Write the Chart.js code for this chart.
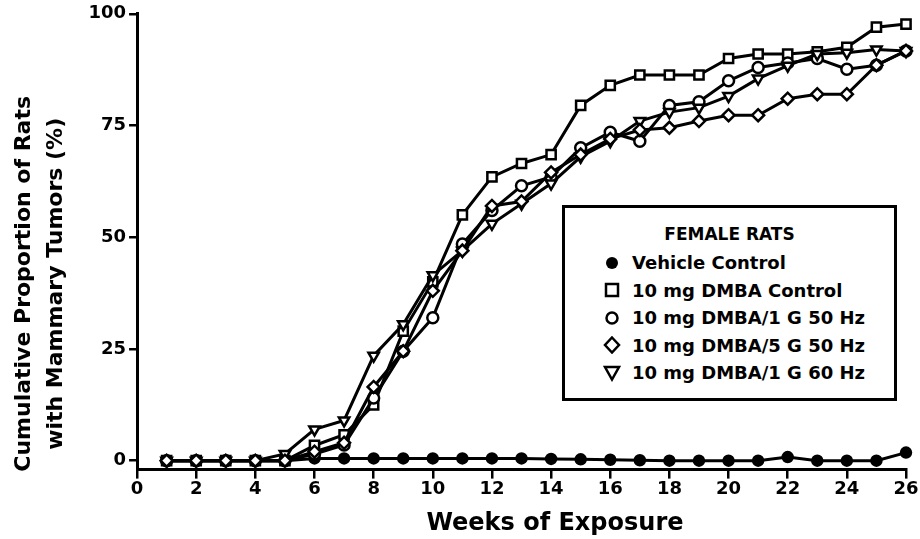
<!DOCTYPE html>
<html>
<head>
<meta charset="utf-8">
<script src="https://cdn.jsdelivr.net/npm/chart.js@4.4.0/dist/chart.umd.min.js"></script>
<style>
  html, body { margin: 0; padding: 0; background: #fff; }
  #wrap { position: relative; width: 920px; height: 539px; }
  #legend {
    position: absolute; left: 562px; top: 205px; width: 329px; height: 190px;
    border: 3px solid #000; background: #fff;
    font-family: "DejaVu Sans", sans-serif; font-weight: bold; color: #000;
  }
  #legend .title { text-align: center; font-size: 17px; margin-top: 16px; margin-bottom: 5px; }
  #legend .row { display: flex; align-items: center; height: 27.5px; font-size: 18px; padding-left: 38px; }
  #legend svg { width: 18px; height: 18px; margin-right: 11px; }
</style>
</head>
<body>
<div id="wrap">
  <canvas id="mycanvas" width="920" height="539"></canvas>
  <div id="legend">
    <div class="title">FEMALE RATS</div>
    <div class="row"><svg viewBox="0 0 18 18"><circle cx="9" cy="9" r="6" fill="#000"/></svg>Vehicle Control</div>
    <div class="row"><svg viewBox="0 0 18 18"><rect x="3" y="3" width="12" height="12" fill="#fff" stroke="#000" stroke-width="2.5"/></svg>10 mg DMBA Control</div>
    <div class="row"><svg viewBox="0 0 18 18"><circle cx="9" cy="9" r="5.5" fill="#fff" stroke="#000" stroke-width="2.5"/></svg>10 mg DMBA/1 G 50 Hz</div>
    <div class="row"><svg viewBox="0 0 18 18"><polygon points="9,1.5 16,9 9,16.5 2,9" fill="#fff" stroke="#000" stroke-width="2.5"/></svg>10 mg DMBA/5 G 50 Hz</div>
    <div class="row"><svg viewBox="0 0 18 18"><polygon points="2,3 16,3 9,15.5" fill="#fff" stroke="#000" stroke-width="2.5"/></svg>10 mg DMBA/1 G 60 Hz</div>
  </div>
</div>
<script>
var weeks = [1,2,3,4,5,6,7,8,9,10,11,12,13,14,15,16,17,18,19,20,21,22,23,24,25,26];
var vehicleControl = [0,0,0,0,0,0.5,0.5,0.5,0.5,0.5,0.5,0.5,0.5,0.4,0.3,0.2,0.1,0,0,0,0,0.8,0,0,0,1.8];
var dmbaControl = [0,0,0,0,0,3.4,5.8,12.5,29,40,55,63.5,66.5,68.5,79.5,84,86.3,86.3,86.3,90,91,91,91.5,92.5,97,97.7];
var dmba1G50 = [0,0,0,0,0,1.5,3.5,14,24.5,32,48.5,56,61.5,63.5,70,73.5,71.5,79.5,80.3,85,88,89,90,87.6,88.5,91.7];
var dmba5G50 = [0,0,0,0,0,2,4,16.5,24.5,38,47,57,58,64.5,68.5,72,74,74.5,76,77.3,77.3,81,82,82,88.5,91.7];
var dmba1G60 = [0,0,0,0,1.5,7,9,23.5,30.5,41.5,47,53,57.5,62,68,71.5,76,78,79,81.6,85.5,88.4,91,91.3,92,91.7];
var yTicks = [0,25,50,75,100];

function pts(values){
	return weeks.map(function(w, i){ return {x: w, y: values[i]}; });
}

function series(label, values, style, fill, radius, rotation){
	return {
		label: label,
		data: pts(values),
		borderColor: '#000',
		borderWidth: 3,
		pointStyle: style,
		pointRadius: radius,
		pointHoverRadius: radius,
		pointBorderWidth: 2.5,
		pointBorderColor: '#000',
		pointBackgroundColor: fill,
		pointRotation: rotation || 0,
		tension: 0,
		clip: false
	};
}

var font = "'DejaVu Sans', sans-serif";
// pad the titles with spaces so they sit off-centre like the original
var padY = '           ';
var padX = '        ';

var chartdata = {
	datasets: [
		series('10 mg DMBA/5 G 50 Hz', dmba5G50, 'rectRot', '#fff', 6),
		series('10 mg DMBA/1 G 60 Hz', dmba1G60, 'triangle', '#fff', 6, 180),
		series('10 mg DMBA/1 G 50 Hz', dmba1G50, 'circle', '#fff', 5.5),
		series('Vehicle Control', vehicleControl, 'circle', '#000', 5),
		series('10 mg DMBA Control', dmbaControl, 'rect', '#fff', 6.5)
	]
};

var ctx = document.getElementById('mycanvas');

new Chart(ctx, {
	type: 'line',
	data: chartdata,
	options: {
		responsive: false,
		animation: false,
		layout: { padding: { top: 9, right: 14, left: 9, bottom: 1 } },
		plugins: { legend: { display: false }, tooltip: { enabled: false } },
		scales: {
			x: {
				type: 'linear',
				min: 0,
				max: 26,
				border: { width: 3, color: '#000' },
				grid: { drawOnChartArea: false, drawTicks: true, tickLength: 9, color: '#000', lineWidth: 2.5 },
				ticks: { stepSize: 2, color: '#000', padding: 0, maxRotation: 0, font: { family: font, size: 18, weight: 'bold' } },
				title: { display: true, text: padX + 'Weeks of Exposure', color: '#000', padding: { top: 9, bottom: 0 }, font: { family: font, size: 24, weight: 'bold' } }
			},
			y: {
				min: -2,
				max: 100,
				afterBuildTicks: function(axis){ axis.ticks = yTicks.map(function(v){ return {value: v}; }); },
				border: { width: 3, color: '#000' },
				grid: { drawOnChartArea: false, drawTicks: true, tickLength: 8, color: '#000', lineWidth: 2.5 },
				ticks: { color: '#000', padding: 3, font: { family: font, size: 18, weight: 'bold' } },
				title: { display: true, text: ['Cumulative Proportion of Rats' + padY, 'with Mammary Tumors (%)' + padY], color: '#000', padding: { top: 0, bottom: 14 }, font: { family: font, size: 22, weight: 'bold', lineHeight: 1.42 } }
			}
		}
	}
});
</script>
</body>
</html>
